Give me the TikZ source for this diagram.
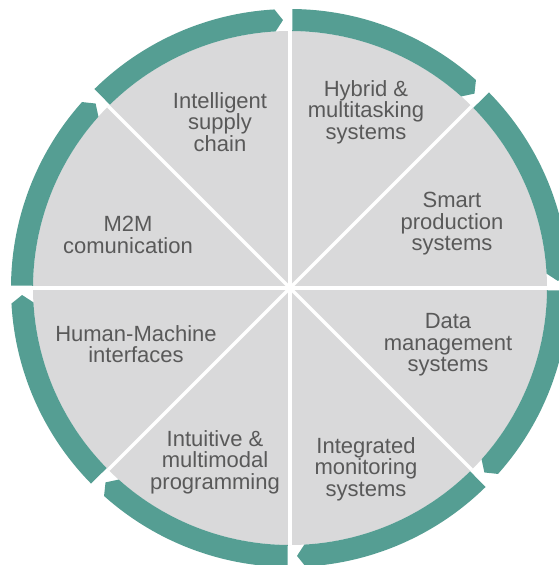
\documentclass[tikz,border=0pt]{standalone}
\usepackage{fontspec}
\setmainfont{Liberation Sans}
\usepackage{tikz}
\usetikzlibrary{positioning}
\definecolor{ringteal}{RGB}{85,158,147}
\definecolor{sectorgray}{RGB}{217,217,218}
\definecolor{textgray}{RGB}{89,89,89}
\tikzstyle{disc} = [fill = sectorgray]
\tikzstyle{divider} = [draw = white, line width = 3.5]
\tikzstyle{arcarrow} = [fill = ringteal]
\tikzstyle{field} = [
  text = textgray, align = center, inner sep = 0,
  font = \fontsize{22}{21.5}\selectfont
]

\begin{document}
\begin{tikzpicture}[x = 1pt, y = 1pt]
    \useasboundingbox (-290, -277) rectangle (268, 288);
    \fill [disc] (0, 0) circle [radius = 257];
    \foreach \a in {0, 45, 90, 135}
      \draw [divider] ({\a}:257) -- ({\a + 180}:257);
    \foreach \t in {90, 45, 0, -45, -90, -135, 180, 135} {
      \fill [arcarrow] ({\t - 0.5}:257) -- ({\t - 0.5}:279)
        arc [start angle = \t - 0.5, end angle = \t - 41.8, radius = 279]
        -- ({\t - 43.5}:268) -- ({\t - 41.8}:257)
        arc [start angle = \t - 41.8, end angle = \t - 0.5, radius = 257]
        -- cycle;
    }
    \node [field] (supply) at (-70, 166) {Intelligent\\supply\\chain};
    \node [field] (hybrid) at (76, 176) {Hybrid \&\\multitasking\\systems};
    \node [field] (smart) at (162, 64) {Smart\\production\\systems};
    \node [field] (data) at (158, -57) {Data\\management\\systems};
    \node [field] (monitor) at (76, -181) {Integrated\\monitoring\\systems};
    \node [field] (program) at (-75, -174) {Intuitive \&\\multimodal\\programming};
    \node [field] (hmi) at (-154, -56) {Human-Machine\\interfaces};
    \node [field] (mtwom) at (-162, 53) {M2M\\comunication};
\end{tikzpicture}
\end{document}
